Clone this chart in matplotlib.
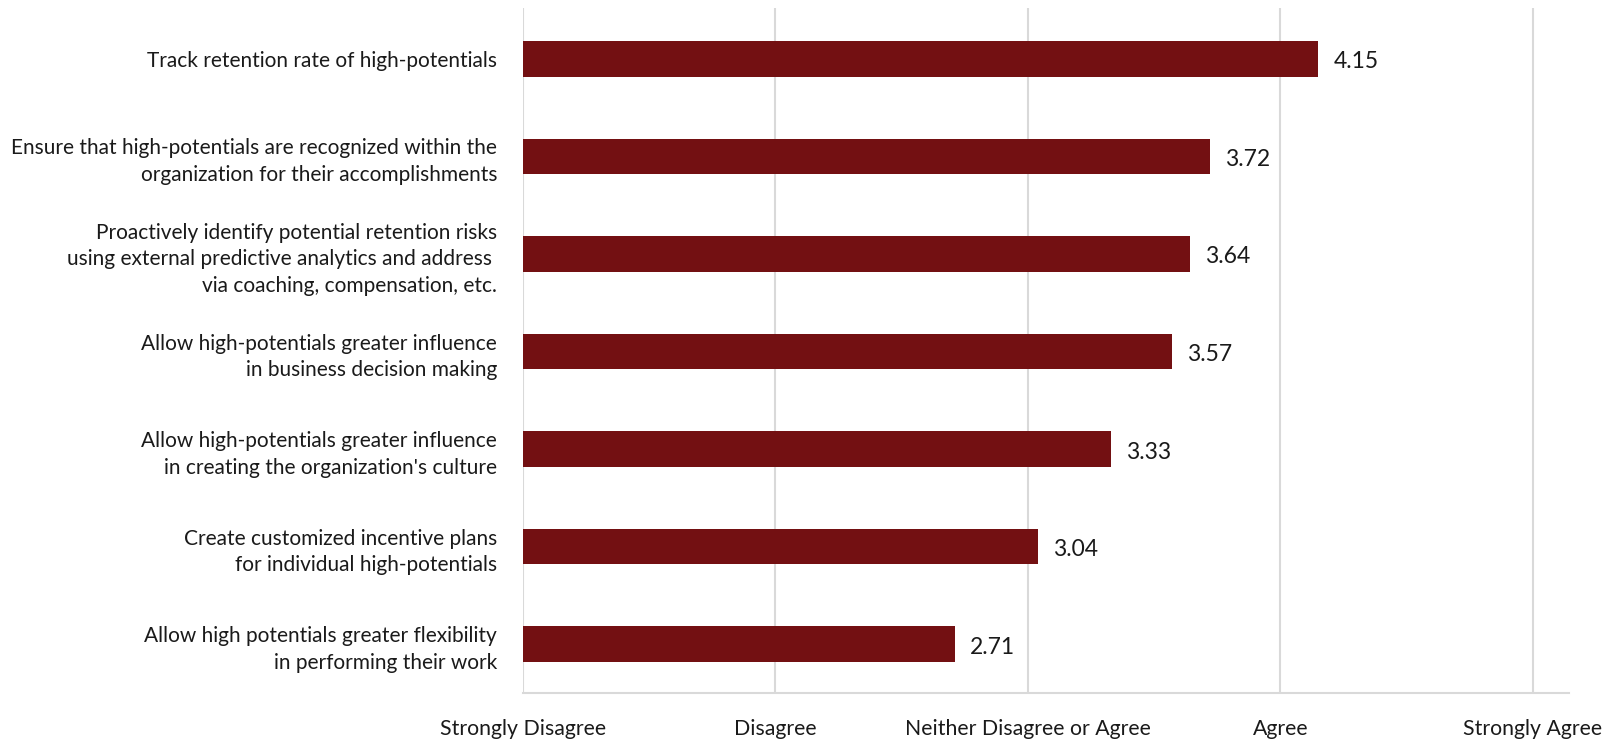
import matplotlib.pyplot as plt

# survey items, top to bottom
items = [
    "Track retention rate of high-potentials",
    "Ensure that high-potentials are recognized within the\norganization for their accomplishments",
    "Proactively identify potential retention risks\nusing external predictive analytics and address \nvia coaching, compensation, etc.",
    "Allow high-potentials greater influence\nin business decision making",
    "Allow high-potentials greater influence\nin creating the organization's culture",
    "Create customized incentive plans\nfor individual high-potentials",
    "Allow high potentials greater flexibility\nin performing their work",
]
scores = [4.15, 3.72, 3.64, 3.57, 3.33, 3.04, 2.71]

scale_ticks = [1, 2, 3, 4, 5]
scale_labels = ["Strongly Disagree", "Disagree", "Neither Disagree or Agree", "Agree", "Strongly Agree"]

plt.rcParams['font.family'] = ['Lato', 'DejaVu Sans']

fig = plt.figure(figsize=(16.21, 7.43), dpi=100)
ax = fig.add_axes([0.3226, 0.0673, 0.968 - 0.3226, 0.989 - 0.0673])

pos = list(range(len(items)))
ax.barh(pos, scores, left=0, height=0.365, color='#731012', zorder=3)

for p, s in zip(pos, scores):
    ax.text(s + 0.06, p + 0.03, f"{s:.2f}", va='center', ha='left', fontsize=16.5, color='#1a1a1a')

ax.set_xlim(1, 5.143)
ax.set_ylim(len(items) - 0.5, -0.52)
ax.set_yticks(pos)
ax.set_yticklabels(items, fontsize=15, color='#1a1a1a', linespacing=1.42)
ax.set_xticks(scale_ticks)
ax.set_xticklabels(scale_labels, fontsize=15.3, color='#1a1a1a')
ax.tick_params(axis='y', length=0, pad=18.5)
ax.tick_params(axis='x', length=0, pad=19)

ax.grid(axis='x', color='#d9d9d9', linewidth=1.5, zorder=0)
for side in ['top', 'right', 'left']:
    ax.spines[side].set_visible(False)
ax.spines['bottom'].set_color('#d9d9d9')
ax.spines['bottom'].set_linewidth(1.5)

fig.savefig('out.png', dpi=100)
